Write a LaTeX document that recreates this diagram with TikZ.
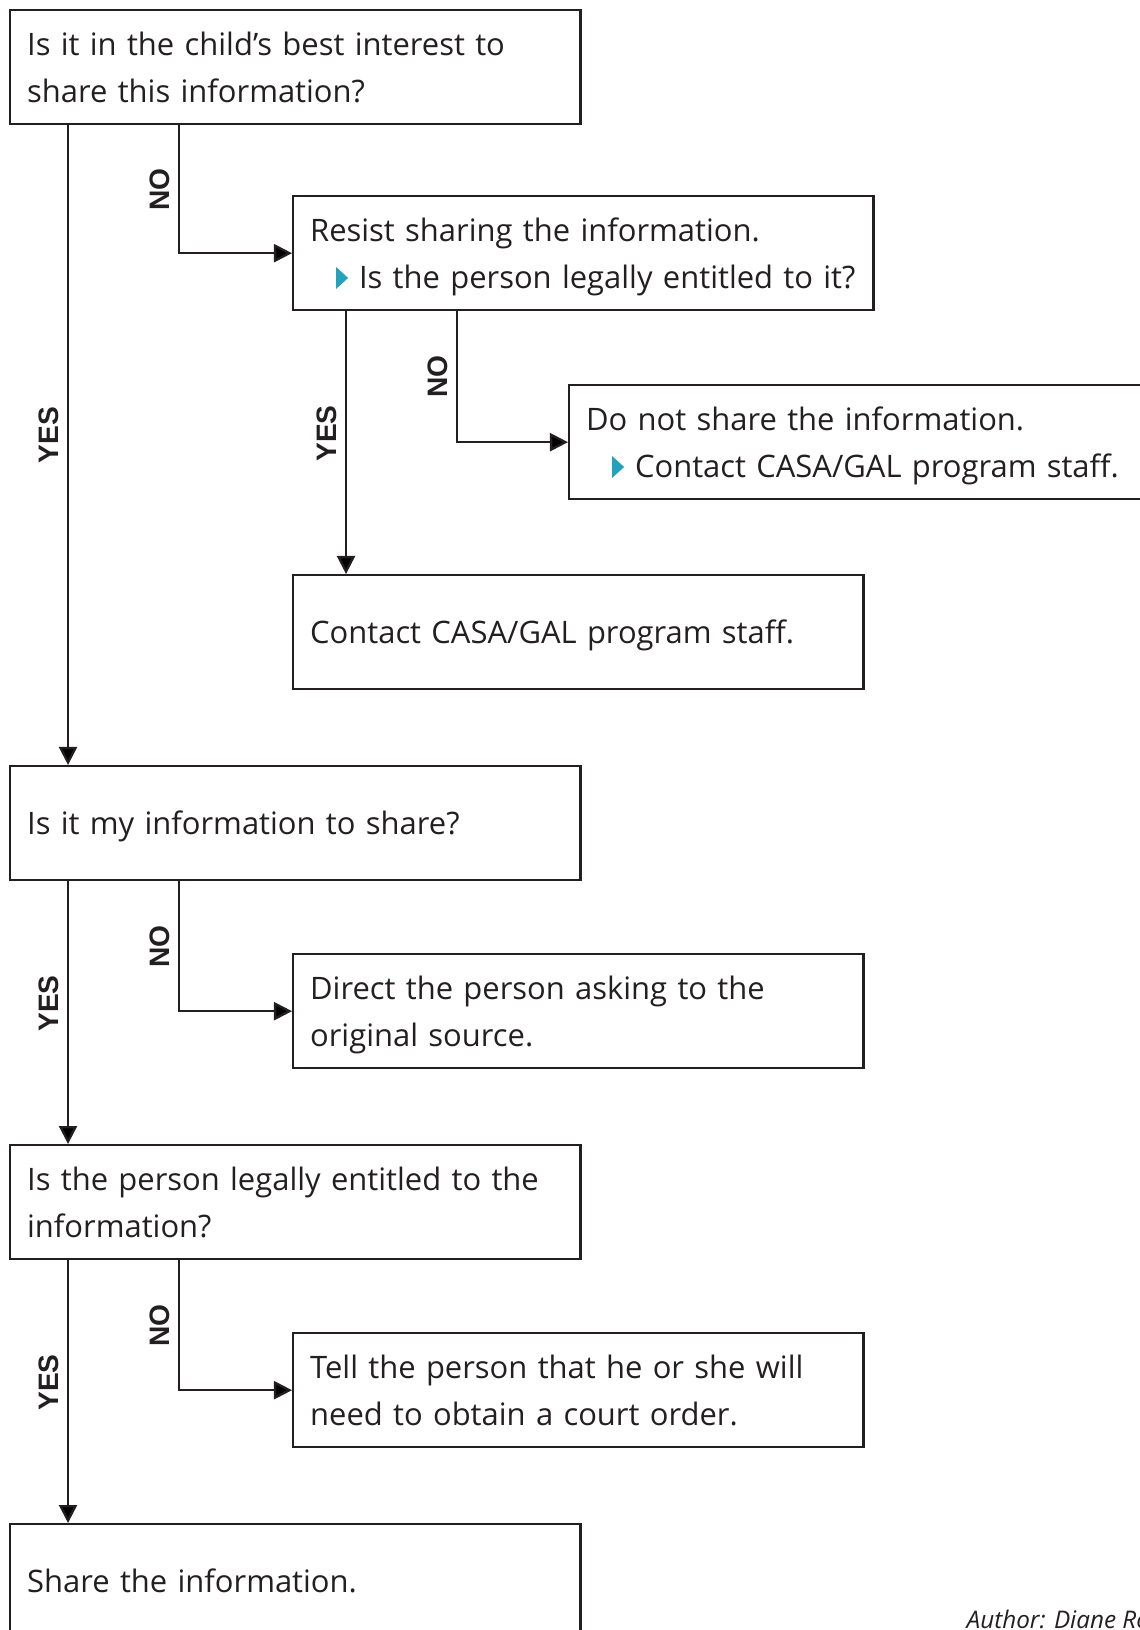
\documentclass[tikz,border=0pt]{standalone}
\usepackage{fontspec}
\setmainfont{Open Sans}
\newfontfamily\labelfont{Liberation Sans}
\usetikzlibrary{
    arrows.meta,
    positioning,
    calc
}
\definecolor{inkgray}{HTML}{231F20}
\definecolor{bulletteal}{HTML}{22A2BC}
\newcommand{\tribullet}{\tikz[baseline=0pt]\fill[bulletteal] (0pt,0pt) -- (0pt,6.2pt) -- (3.4pt,3.1pt) -- cycle;}
\newcommand{\subline}[1]{\mbox{\hspace*{7.4pt}\tribullet\hspace{3.1pt}#1}}

\begin{document}
\begin{tikzpicture}[x=0.01cm, y=-0.01cm,
    box/.style={draw=inkgray, line width=0.65pt, anchor=north west,
        minimum height=1.14cm, minimum width=5.7cm, text width=5.36cm,
        inner xsep=0.17cm, inner ysep=0pt, align=left, text=inkgray,
        text height=6.7pt, text depth=0pt, font=\fontsize{8.8}{13.6}\selectfont},
    twoline/.style={text depth=13.6pt},
    widebox/.style={box, twoline, minimum width=5.8cm, text width=5.46cm},
    arr/.style={draw=inkgray, line width=0.65pt,
        -{Triangle[length=0.18cm, width=0.18cm]}},
    answer/.style={font=\labelfont\bfseries\fontsize{8}{8}\selectfont,
        text=inkgray, rotate=90, anchor=south, inner xsep=0pt, inner ysep=2.3pt},
    credit/.style={anchor=base west, inner sep=0pt, text=inkgray,
        font=\itshape\fontsize{6.9}{8}\selectfont}]
                        \useasboundingbox (0, 0) rectangle (1140, 1630);
                        \clip (0, 0) rectangle (1140, 1630);
                        % questions and answers
                        \node[box, twoline] (b1) at (9, 9) {Is it in the child’s best interest to\\share this information?};
                        \node[widebox] (b2) at (292, 195) {Resist sharing the information.\\\subline{Is the person legally entitled to it?}};
                        \node[widebox] (b3) at (568, 384) {Do not share the information.\\\subline{Contact CASA/GAL program staff.}};
                        \node[box] (b4) at (292, 574) {Contact CASA/GAL program staff.};
                        \node[box] (b5) at (9, 765) {Is it my information to share?};
                        \node[box, twoline] (b6) at (292, 953) {Direct the person asking to the\\original source.};
                        \node[box, twoline] (b7) at (9, 1144) {Is the person legally entitled to the\\information?};
                        \node[box, twoline] (b8) at (292, 1332) {Tell the person that he or she will\\need to obtain a court order.};
                        \node[box] (b9) at (9, 1523) {Share the information.};
                        \node[credit] (author) at (966, 1628) {Author: Diane Ro};
                        % connectors
                        \draw[arr] ([xshift=0.59cm]b1.south west) -- node[answer, pos=0.484] (yes1) {YES} ([xshift=0.59cm]b5.north west);
                        \draw[arr] ([xshift=1.70cm]b1.south west) |- node[answer, pos=0.25] (no1) {NO} (b2.west);
                        \draw[arr] ([xshift=0.54cm]b2.south west) -- node[answer, pos=0.465] (yes2) {YES} ([xshift=0.54cm]b4.north west);
                        \draw[arr] ([xshift=1.65cm]b2.south west) |- node[answer, pos=0.25] (no2) {NO} (b3.west);
                        \draw[arr] ([xshift=0.59cm]b5.south west) -- node[answer, pos=0.465] (yes3) {YES} ([xshift=0.59cm]b7.north west);
                        \draw[arr] ([xshift=1.70cm]b5.south west) |- node[answer, pos=0.25] (no3) {NO} (b6.west);
                        \draw[arr] ([xshift=0.59cm]b7.south west) -- node[answer, pos=0.465] (yes4) {YES} ([xshift=0.59cm]b9.north west);
                        \draw[arr] ([xshift=1.70cm]b7.south west) |- node[answer, pos=0.25] (no4) {NO} (b8.west);
                    \end{tikzpicture}
\end{document}
